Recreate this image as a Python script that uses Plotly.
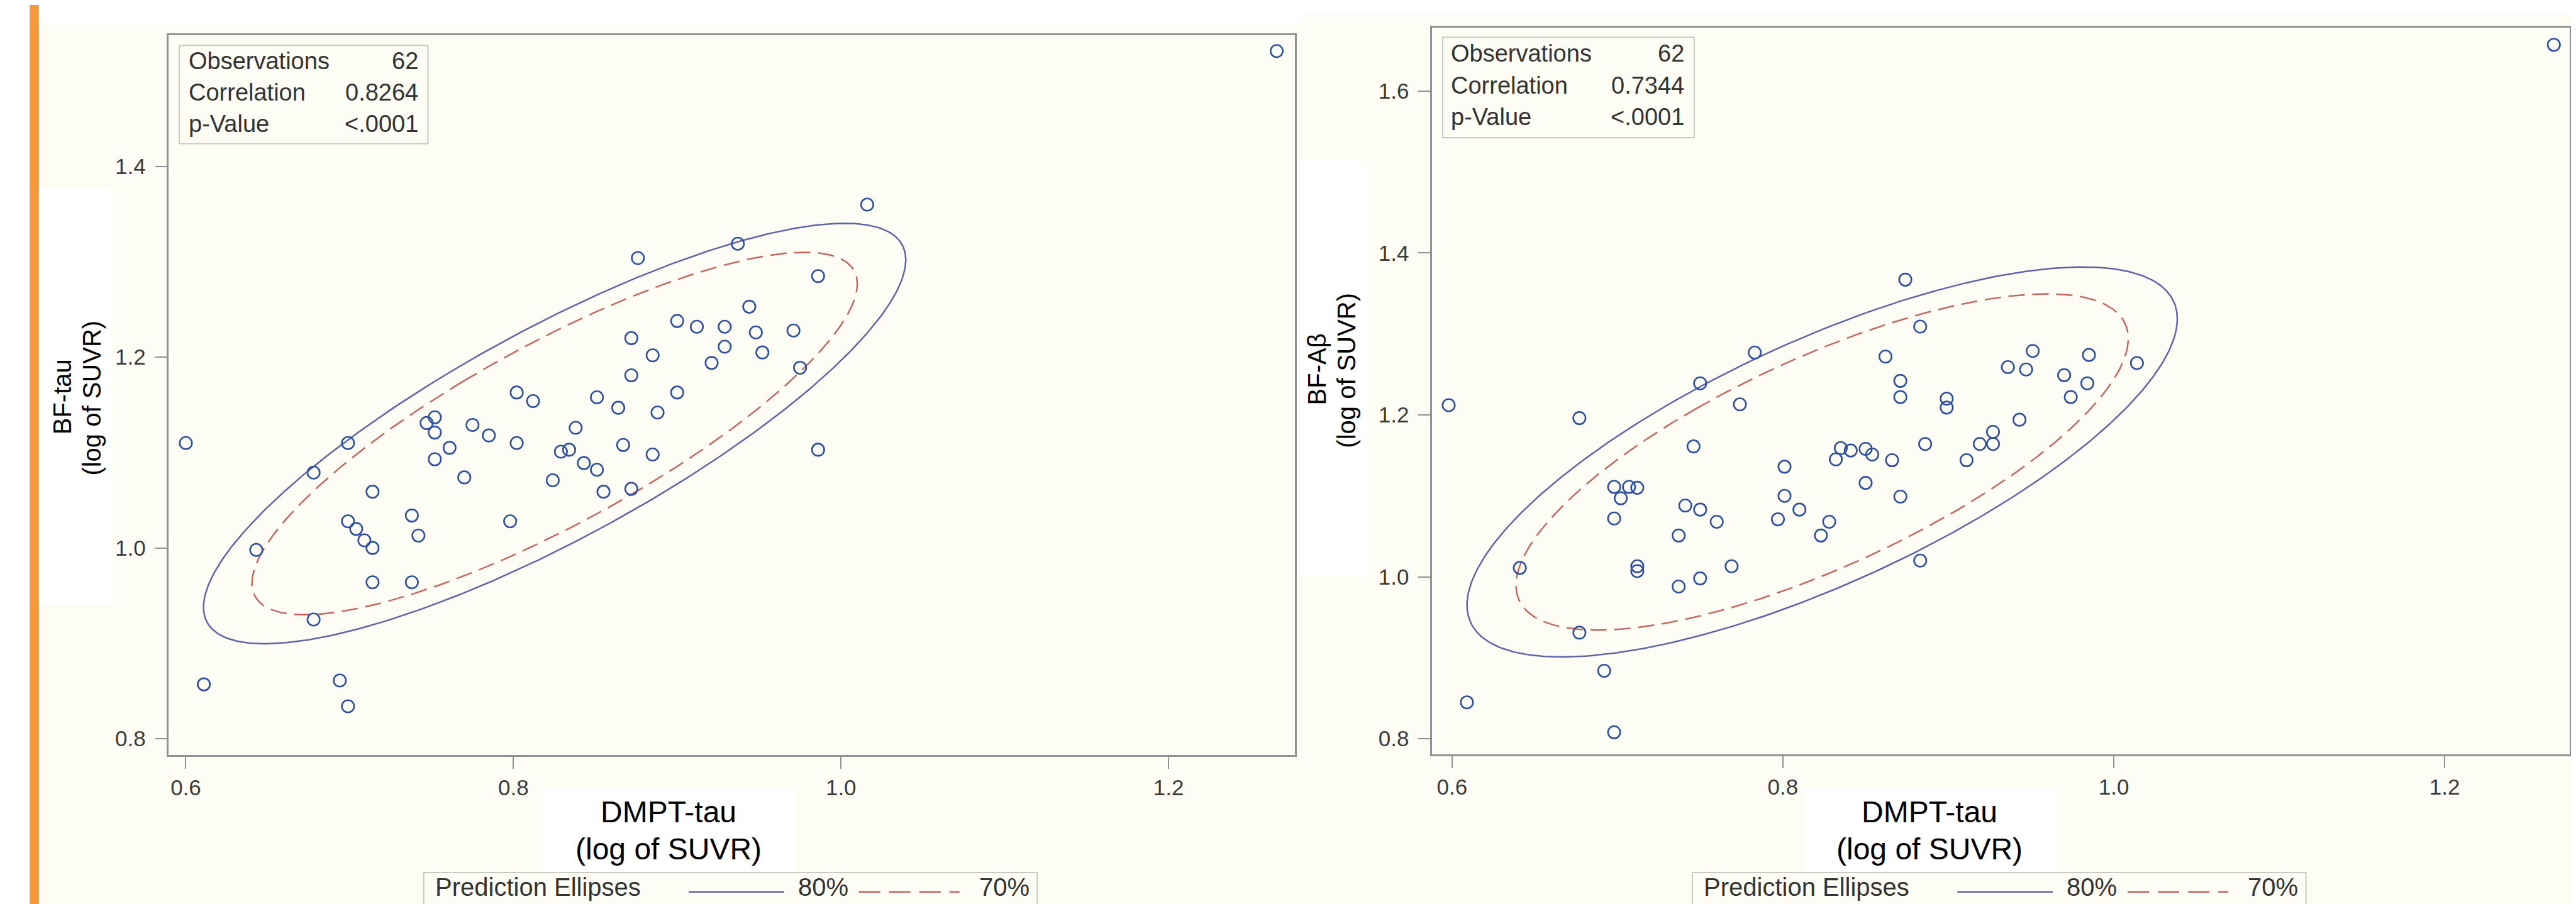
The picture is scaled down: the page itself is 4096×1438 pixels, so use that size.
import numpy as np
import plotly.graph_objects as go

# ---------------- data ----------------
# Panel 1: DMPT-tau (x) vs BF-tau (y)
tau_x = [0.600, 0.611, 0.643, 0.678, 0.678, 0.699, 0.694, 0.699, 0.699, 0.704,
         0.709, 0.714, 0.714, 0.714, 0.738, 0.742, 0.738, 0.747, 0.752, 0.752,
         0.752, 0.761, 0.775, 0.785, 0.770, 0.802, 0.812, 0.802, 0.798, 0.824,
         0.829, 0.834, 0.838, 1.016, 0.937, 0.876, 0.986, 0.944, 0.900, 0.912,
         0.929, 0.948, 0.971, 0.872, 0.929, 0.885, 0.952, 0.921, 0.975, 0.872,
         0.900, 0.851, 0.864, 0.888, 0.867, 0.885, 0.843, 0.851, 0.855, 0.872,
         0.986, 1.266]
tau_y = [1.110, 0.857, 0.998, 1.079, 0.925, 1.110, 0.861, 0.834, 1.028, 1.020,
         1.008, 1.000, 1.059, 0.964, 1.034, 1.013, 0.964, 1.131, 1.137, 1.121,
         1.093, 1.105, 1.129, 1.118, 1.074, 1.163, 1.154, 1.110, 1.028, 1.071,
         1.101, 1.103, 1.126, 1.360, 1.319, 1.304, 1.285, 1.253, 1.238, 1.232,
         1.232, 1.226, 1.228, 1.220, 1.211, 1.202, 1.205, 1.194, 1.189, 1.181,
         1.163, 1.158, 1.147, 1.142, 1.108, 1.098, 1.089, 1.082, 1.059, 1.062,
         1.103, 1.521]

# Panel 2: DMPT-tau (x) vs BF-Abeta (y)
ab_x = [0.598, 0.609, 0.641, 0.677, 0.677, 0.692, 0.698, 0.698, 0.702, 0.707,
        0.712, 0.698, 0.712, 0.712, 0.750, 0.783, 0.774, 0.746, 0.741, 0.750,
        0.760, 0.737, 0.769, 0.750, 0.737, 0.801, 0.801, 0.810, 0.797, 0.828,
        0.823, 0.832, 0.835, 0.874, 0.883, 0.862, 0.871, 0.871, 0.899, 0.899,
        0.951, 0.936, 0.947, 0.985, 1.014, 0.970, 0.984, 0.974, 0.943, 0.841,
        0.850, 0.854, 0.866, 0.886, 0.911, 0.919, 0.927, 0.927, 0.850, 0.871,
        0.883, 1.266]
ab_y = [1.212, 0.845, 1.011, 1.196, 0.931, 0.884, 0.808, 1.111, 1.097, 1.111,
        1.110, 1.072, 1.013, 1.007, 1.239, 1.277, 1.213, 1.161, 1.088, 1.083,
        1.068, 1.051, 1.013, 0.998, 0.988, 1.136, 1.100, 1.083, 1.071, 1.068,
        1.051, 1.145, 1.159, 1.367, 1.309, 1.272, 1.242, 1.222, 1.220, 1.209,
        1.279, 1.259, 1.256, 1.274, 1.264, 1.249, 1.239, 1.222, 1.194, 1.156,
        1.158, 1.151, 1.144, 1.164, 1.144, 1.164, 1.179, 1.164, 1.116, 1.099,
        1.020, 1.657]

stat_labels = ["Observations", "Correlation", "p-Value"]
stats_tau = ["62", "0.8264", "<.0001"]
stats_ab = ["62", "0.7344", "<.0001"]
ellipse_levels = [0.80, 0.70]
legend_title = "Prediction Ellipses"
legend_items = ["80%", "70%"]
x_ticks = [0.6, 0.8, 1.0, 1.2]
y_ticks_tau = [0.8, 1.0, 1.2, 1.4]
y_ticks_ab = [0.8, 1.0, 1.2, 1.4, 1.6]

# ---------------- geometry helpers ----------------
W, H = 4096, 1438
S = 0.93
FONT = "Liberation Sans, Arial, sans-serif"
BG = "#FDFDF5"
AXC = "#8E9295"
MARK = "#2F4F9F"
C80 = "#5F64AA"
C70 = "#C4675C"


def px(X):
    return X * S / W


def py(Y):
    return 1 - Y * S / H


def pred_ellipse(x, y, level, npts=400):
    x = np.asarray(x, float)
    y = np.asarray(y, float)
    n = len(x)
    m = np.array([x.mean(), y.mean()])
    cov = np.cov(np.vstack([x, y]))
    nu = n - 2
    fq = nu / 2 * ((1 - level) ** (-2 / nu) - 1)  # F(2, n-2) quantile
    c = 2 * (n - 1) * (n + 1) / (n * (n - 2)) * fq
    vals, vecs = np.linalg.eigh(cov)
    t = np.linspace(0, 2 * np.pi, npts)
    circ = np.vstack([np.cos(t), np.sin(t)])
    pts = vecs @ (np.sqrt(vals * c)[:, None] * circ)
    return m[0] + pts[0], m[1] + pts[1]


fig = go.Figure()

panels = [
    (tau_x, tau_y, "x", "y"),
    (ab_x, ab_y, "x2", "y2"),
]
for xs, ys, xa, ya in panels:
    for lev, col, dash in zip(ellipse_levels, [C80, C70], ["solid", "26px,12px"]):
        ex, ey = pred_ellipse(xs, ys, lev)
        fig.add_trace(go.Scatter(x=ex, y=ey, mode="lines", xaxis=xa, yaxis=ya,
                                 line=dict(color=col, width=2.5, dash=dash),
                                 hoverinfo="skip", showlegend=False))
    fig.add_trace(go.Scatter(x=xs, y=ys, mode="markers", xaxis=xa, yaxis=ya,
                             marker=dict(symbol="circle-open", size=19.5, color=MARK,
                                         line=dict(width=2.6, color=MARK)),
                             showlegend=False))

axis_common = dict(showline=True, mirror=True, linecolor=AXC, linewidth=2.5,
                   ticks="outside", ticklen=19, tickwidth=2, tickcolor=AXC,
                   showgrid=False, zeroline=False,
                   tickfont=dict(family=FONT, size=35, color="#3A3A3A"),
                   tickformat=".1f")

fig.update_layout(
    width=W, height=H, autosize=False,
    margin=dict(l=0, r=0, t=0, b=0, pad=0),
    paper_bgcolor=BG, plot_bgcolor=BG,
    showlegend=False,
    xaxis=dict(domain=[px(280), px(2205)], range=[0.5896, 1.277],
               tickvals=x_ticks, anchor="y", **axis_common),
    yaxis=dict(domain=[py(1283), py(52)], range=[0.7828, 1.5374],
               tickvals=y_ticks_tau, anchor="x", ticklabelstandoff=8, **axis_common),
    xaxis2=dict(domain=[px(2440), px(4385)], range=[0.588, 1.2756],
                tickvals=x_ticks, anchor="y2", **axis_common),
    yaxis2=dict(domain=[py(1282), py(39)], range=[0.7805, 1.678],
                tickvals=y_ticks_ab, anchor="x2", ticklabelstandoff=8, **axis_common),
)

shapes = []
annots = []


def rect(x0, y0, x1, y1, fill, line=None, lw=0, layer="below"):
    shapes.append(dict(type="rect", xref="paper", yref="paper",
                       x0=px(x0), x1=px(x1), y0=py(y1), y1=py(y0),
                       fillcolor=fill, layer=layer,
                       line=dict(color=line or fill, width=lw)))


def text(X, Y, s, size, color="#000000", xanchor="center", angle=0):
    annots.append(dict(xref="paper", yref="paper", x=px(X), y=py(Y), text=s,
                       showarrow=False, xanchor=xanchor, yanchor="middle",
                       textangle=angle,
                       font=dict(family=FONT, size=size, color=color)))


# background decorations: white margins, orange bar
rect(0, 0, 42, 1545, "#FFFFFF")
rect(42, 0, 58, 1545, "#F49A3C")
rect(58, 0, 2218, 32, "#FFFFFF")
rect(2218, 0, 4402, 15, "#FFFFFF")

# white boxes behind axis titles
rect(58, 314, 182, 1026, "#FFFFFF")
rect(2206, 267, 2329, 976, "#FFFFFF")
rect(919, 1337, 1349, 1485, "#FFFFFF")
rect(3073, 1337, 3506, 1485, "#FFFFFF")

# axis titles
text(1134, 1380, "DMPT-tau", 48)
text(1134, 1444, "(log of SUVR)", 48)
text(3290, 1380, "DMPT-tau", 48)
text(3290, 1444, "(log of SUVR)", 48)
text(98, 670, "BF-tau", 40, angle=-90)
text(148, 672, "(log of SUVR)", 40, angle=-90)
text(2243, 623, "BF-Aβ", 40, angle=-90)
text(2294, 625, "(log of SUVR)", 40, angle=-90)

# statistics insets
for (bx0, by0, bx1, by1, tx, vx, rows, vals) in [
        (298, 69, 723, 237, 312, 709, [96, 150, 203], stats_tau),
        (2458, 55, 2888, 227, 2470, 2873, [83, 138, 191], stats_ab)]:
    rect(bx0, by0, bx1, by1, BG, line="#C9C9C4", lw=2, layer="above")
    for lab, val, ry in zip(stat_labels, vals, rows):
        text(tx, ry, lab, 38, color="#333333", xanchor="left")
        text(vx, ry, val, 38, color="#333333", xanchor="right")

# bottom legends
for off in [0, 2169]:
    rect(716 + off, 1484, 1765 + off, 1600, BG, line="#C9C9C4", lw=2)
    text(733 + off, 1509, legend_title, 40, color="#333333", xanchor="left")
    shapes.append(dict(type="line", xref="paper", yref="paper",
                       x0=px(1169 + off), x1=px(1332 + off), y0=py(1517), y1=py(1517),
                       line=dict(color=C80, width=2.5)))
    text(1354 + off, 1509, legend_items[0], 40, color="#333333", xanchor="left")
    shapes.append(dict(type="line", xref="paper", yref="paper",
                       x0=px(1460 + off), x1=px(1632 + off), y0=py(1517), y1=py(1517),
                       line=dict(color=C70, width=2.5, dash="34px,14px")))
    text(1663 + off, 1509, legend_items[1], 40, color="#333333", xanchor="left")

fig.update_layout(shapes=shapes, annotations=annots)
fig.write_html("out.html")
